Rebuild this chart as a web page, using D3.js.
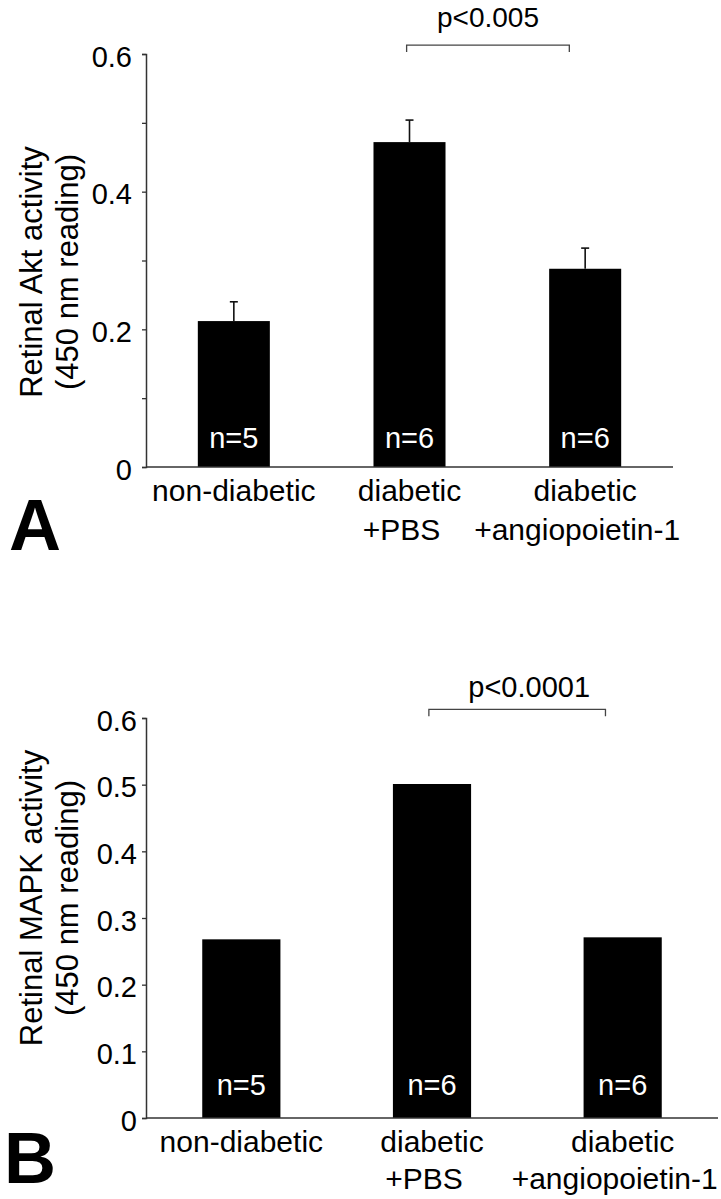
<!DOCTYPE html>
<html>
<head>
<meta charset="utf-8">
<script src="https://cdn.jsdelivr.net/npm/d3@7"></script>
<style>
  body { margin: 0; background: #fff; }
  svg { display: block; font-family: "Liberation Sans", Arial, Helvetica, sans-serif; }
</style>
</head>
<body>
<svg id="fig" width="721" height="1199"></svg>
<script>
// data
var categories = [["non-diabetic"], ["diabetic", "+PBS"], ["diabetic", "+angiopoietin-1"]];
var sampleSizes = ["n=5", "n=6", "n=6"];

var aktValues = [0.212, 0.472, 0.288];
var aktErrors = [0.028, 0.032, 0.030];
var aktTicks = [0, 0.2, 0.4, 0.6];
var aktMinorTicks = [0.1, 0.3, 0.5];

var mapkValues = [0.268, 0.501, 0.271];
var mapkTicks = [0, 0.1, 0.2, 0.3, 0.4, 0.5, 0.6];

var pLabels = ["p<0.005", "p<0.0001"];
var comparedPair = [1, 2];
var bracketLevel = 0.613;

var svg = d3.select("#fig");

function drawPanel(o) {
  var g = svg.append("g");

  var x = d3.scaleBand()
    .domain(d3.range(categories.length))
    .range([o.left, o.right])
    .paddingInner(0.59)
    .paddingOuter(0.295);

  var y = d3.scaleLinear()
    .domain([0, 0.6])
    .range([o.bottom, o.top]);

  // bars
  g.selectAll("rect.bar")
    .data(o.values)
    .enter().append("rect")
    .attr("class", "bar")
    .attr("x", (d, i) => x(i))
    .attr("y", d => y(d))
    .attr("width", x.bandwidth())
    .attr("height", d => y(0) - y(d))
    .attr("fill", "#000");

  // upper error whiskers
  if (o.errors) {
    var eb = g.selectAll("g.err")
      .data(o.values)
      .enter().append("g")
      .attr("class", "err")
      .attr("stroke", "#111")
      .attr("stroke-width", 1.6);
    eb.append("line")
      .attr("x1", (d, i) => x(i) + x.bandwidth() / 2)
      .attr("x2", (d, i) => x(i) + x.bandwidth() / 2)
      .attr("y1", d => y(d))
      .attr("y2", (d, i) => y(d + o.errors[i]));
    eb.append("line")
      .attr("x1", (d, i) => x(i) + x.bandwidth() / 2 - 4)
      .attr("x2", (d, i) => x(i) + x.bandwidth() / 2 + 4)
      .attr("y1", (d, i) => y(d + o.errors[i]))
      .attr("y2", (d, i) => y(d + o.errors[i]));
  }

  // n= labels inside bars
  g.selectAll("text.n")
    .data(sampleSizes)
    .enter().append("text")
    .attr("class", "n")
    .attr("x", (d, i) => x(i) + x.bandwidth() / 2)
    .attr("y", y(0) - o.nOffset)
    .attr("text-anchor", "middle")
    .attr("fill", "#fff")
    .style("font-size", "29px")
    .text(d => d);

  // y axis
  var yAxis = d3.axisLeft(y)
    .tickValues(o.ticks)
    .tickFormat(d => d === 0 ? "0" : d3.format(".1f")(d))
    .tickSize(4)
    .tickPadding(o.tickPad);
  var ya = g.append("g")
    .attr("transform", "translate(" + o.left + ",0)")
    .call(yAxis);
  ya.select(".domain").attr("stroke", "#333").attr("stroke-width", 1.5);
  ya.selectAll(".tick line").attr("stroke", "#333").attr("stroke-width", 1.3);
  ya.selectAll(".tick text")
    .attr("fill", "#000")
    .attr("dy", "0.42em")
    .style("font-size", "29px")
    .style("font-family", "inherit");

  if (o.minor) {
    g.append("g")
      .attr("transform", "translate(" + o.left + ",0)")
      .call(d3.axisLeft(y).tickValues(o.minor).tickSize(4).tickFormat(""))
      .call(s => s.select(".domain").remove())
      .selectAll(".tick line").attr("stroke", "#333").attr("stroke-width", 1.3);
  }

  // x axis baseline
  g.append("line")
    .attr("x1", o.left)
    .attr("x2", o.right)
    .attr("y1", y(0))
    .attr("y2", y(0))
    .attr("stroke", "#333")
    .attr("stroke-width", 1.5);

  // category labels (second lines sit a little left, as in the figure)
  var cl = g.selectAll("text.cat")
    .data(categories)
    .enter().append("text")
    .attr("class", "cat")
    .attr("text-anchor", "middle")
    .style("font-size", "30px")
    .attr("fill", "#000");
  cl.selectAll("tspan")
    .data((d, i) => d.map(t => ({ t: t, i: i })))
    .enter().append("tspan")
    .attr("x", (d, j) => x(d.i) + x.bandwidth() / 2 - (j > 0 ? 8 : 0))
    .attr("y", (d, j) => o.labelY + j * o.labelGap)
    .text(d => d.t);

  // y title, two lines rotated
  o.title.forEach(function (t, j) {
    g.append("text")
      .attr("transform", "translate(" + (42 + j * 36) + "," + o.titleY + ") rotate(-90)")
      .attr("text-anchor", "middle")
      .style("font-size", "31px")
      .attr("fill", "#000")
      .text(t);
  });

  // significance bracket
  var a = comparedPair[0], b = comparedPair[1];
  var bx1 = x(a) + x.bandwidth() * 0.46;
  var bx2 = x(b) + x.bandwidth() * 0.28;
  var by = y(bracketLevel);
  g.append("path")
    .attr("d", "M" + bx1 + "," + (by + 7) + "V" + by + "H" + bx2 + "V" + (by + 7))
    .attr("fill", "none")
    .attr("stroke", "#444")
    .attr("stroke-width", 1.3);
  g.append("text")
    .attr("x", (bx1 + bx2) / 2 + o.pShift)
    .attr("y", by - o.pGap)
    .attr("text-anchor", "middle")
    .style("font-size", o.pSize)
    .attr("fill", "#000")
    .text(o.pLabel);

  // panel letter
  g.append("text")
    .attr("x", o.letterX)
    .attr("y", o.letterY)
    .style("font-size", "72px")
    .style("font-weight", "bold")
    .attr("fill", "#000")
    .text(o.letter);
}

drawPanel({
  left: 146, right: 673, top: 54, bottom: 467,
  values: aktValues, errors: aktErrors,
  ticks: aktTicks, minor: aktMinorTicks, tickPad: 10,
  nOffset: 19, labelY: 501, labelGap: 39,
  title: ["Retinal Akt activity", "(450 nm reading)"], titleY: 272,
  pLabel: pLabels[0], pSize: "28px", pGap: 18, pShift: 0,
  letter: "A", letterX: 9, letterY: 550
});

drawPanel({
  left: 146, right: 718, top: 718, bottom: 1118,
  values: mapkValues, errors: null,
  ticks: mapkTicks, minor: null, tickPad: 5,
  nOffset: 23, labelY: 1152, labelGap: 37,
  title: ["Retinal MAPK activity", "(450 nm reading)"], titleY: 898,
  pLabel: pLabels[1], pSize: "29px", pGap: 12, pShift: 12,
  letter: "B", letterX: 4, letterY: 1183
});
</script>
</body>
</html>
